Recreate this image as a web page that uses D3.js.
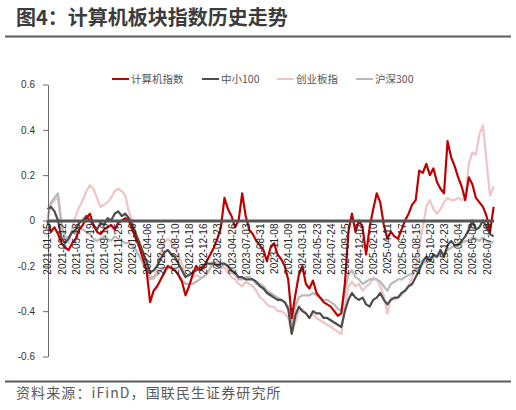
<!DOCTYPE html>
<html>
<head>
<meta charset="utf-8">
<script src="https://cdn.jsdelivr.net/npm/d3@7"></script>
<style>
  html, body { margin: 0; padding: 0; background: #fff; }
  svg { display: block; }
</style>
</head>
<body>
<svg id="chart" width="516" height="410"></svg>
<script>
// ---------- data ----------
const title = "图4：计算机板块指数历史走势";
const source = "资料来源：iFinD，国联民生证券研究所";
const seriesNames = ["计算机指数", "中小100", "创业板指", "沪深300"];

const tickLabels = [
  "2021-01-05","2021-03-12","2021-05-18","2021-07-19","2021-09-16","2021-11-25",
  "2022-01-26","2022-04-06","2022-06-10","2022-08-10","2022-10-18","2022-12-16",
  "2023-02-23","2023-04-26","2023-07-03","2023-08-31","2023-11-08","2024-01-09",
  "2024-03-18","2024-05-23","2024-07-24","2024-09-25","2024-12-02","2025-02-10",
  "2025-04-11","2025-06-17","2025-08-15","2025-10-23","2025-12-23","2026-03-04",
  "2026-05-08","2026-07-09"
];

const computer = [
  0.0, -0.05, -0.03, -0.06, -0.10, -0.12, -0.13, -0.10, -0.08, -0.04,
  -0.02, 0.01, 0.03, -0.02, -0.05, -0.06, -0.04, -0.03, -0.02, -0.04,
  -0.01, 0.0, 0.01, 0.0, -0.04, -0.08, -0.12, -0.17, -0.22, -0.36,
  -0.31, -0.29, -0.26, -0.23, -0.20, -0.21, -0.22, -0.24, -0.27, -0.33,
  -0.29, -0.24, -0.20, -0.22, -0.21, -0.18, -0.15, -0.12, -0.08, -0.03,
  0.10, 0.05, 0.02, -0.03, 0.0, 0.12, 0.02, -0.04, -0.06, -0.09,
  -0.11, -0.13, -0.18, -0.12, -0.10, -0.15, -0.17, -0.20, -0.26, -0.43,
  -0.33, -0.24, -0.20, -0.28, -0.30, -0.265, -0.32, -0.34, -0.36, -0.37,
  -0.38, -0.40, -0.42, -0.41, -0.28, -0.05, 0.03, -0.05, 0.0, -0.03,
  -0.15, -0.03, 0.05, 0.12, 0.08, -0.02, -0.08, -0.05, -0.07, -0.08,
  -0.04, 0.0, 0.03, 0.07, 0.09, 0.22, 0.21, 0.25, 0.20, 0.23,
  0.17, 0.14, 0.12, 0.35, 0.28, 0.24, 0.19, 0.15, 0.09, 0.19,
  0.16, 0.10, 0.08, 0.06, 0.02, -0.05, 0.06
];

const smallCap100 = [
  0.05, 0.06, 0.04, 0.0, -0.08, -0.10, -0.08, -0.05, -0.04, -0.01,
  0.0, 0.02, 0.0, -0.02, -0.04, -0.01, -0.02, 0.01, 0.0, 0.03,
  0.04, 0.02, 0.03, 0.01, -0.02, -0.06, -0.10, -0.14, -0.18, -0.23,
  -0.22, -0.20, -0.17, -0.14, -0.13, -0.15, -0.16, -0.19, -0.22, -0.25,
  -0.24, -0.23, -0.22, -0.21, -0.20, -0.19, -0.19, -0.19, -0.20, -0.19,
  -0.19, -0.20, -0.22, -0.23, -0.25, -0.25, -0.26, -0.26, -0.26, -0.27,
  -0.29, -0.30, -0.32, -0.33, -0.34, -0.35, -0.35, -0.36, -0.39, -0.50,
  -0.42, -0.38, -0.40, -0.41, -0.43, -0.40, -0.41, -0.41, -0.43, -0.43,
  -0.44, -0.45, -0.46, -0.47, -0.40, -0.35, -0.32, -0.34, -0.35, -0.34,
  -0.37, -0.38, -0.35, -0.34, -0.32, -0.35, -0.37, -0.35, -0.34, -0.34,
  -0.32, -0.31, -0.29, -0.28, -0.25, -0.22, -0.18, -0.16, -0.18, -0.15,
  -0.16, -0.13, -0.16, -0.11, -0.09, -0.11, -0.11, -0.09, -0.07, -0.04,
  0.0, -0.04, -0.03, 0.0, -0.03, -0.06, -0.07
];

const chinext = [
  0.02, 0.07, 0.09, 0.10, -0.03, -0.07, -0.10, -0.03, 0.02, 0.06,
  0.09, 0.13, 0.155, 0.14, 0.10, 0.06, 0.07, 0.08, 0.10, 0.13,
  0.14, 0.13, 0.11, 0.04, 0.0, -0.06, -0.09, -0.14, -0.20, -0.24,
  -0.26, -0.20, -0.14, -0.10, -0.08, -0.10, -0.12, -0.15, -0.19, -0.24,
  -0.24, -0.25, -0.24, -0.25, -0.25, -0.24, -0.21, -0.19, -0.18, -0.20,
  -0.21, -0.23, -0.25, -0.26, -0.28, -0.29, -0.27, -0.28, -0.29, -0.31,
  -0.34, -0.35, -0.37, -0.38, -0.38, -0.40, -0.40, -0.41, -0.43, -0.50,
  -0.45, -0.40, -0.39, -0.41, -0.43, -0.41, -0.43, -0.44, -0.45, -0.46,
  -0.47, -0.48, -0.49, -0.50, -0.38, -0.29, -0.27, -0.29, -0.28, -0.31,
  -0.29, -0.28, -0.25, -0.26, -0.29, -0.33, -0.41, -0.34, -0.35, -0.34,
  -0.33, -0.31, -0.29, -0.25, -0.21, -0.12, -0.03, 0.06, 0.09, 0.05,
  0.03, 0.05, 0.08, 0.10, 0.09, 0.09, 0.10, 0.09, 0.10, 0.25,
  0.30, 0.29, 0.38, 0.42, 0.26, 0.11, 0.15
];

const csi300 = [
  0.0, 0.08, 0.10, 0.12, -0.02, -0.08, -0.07, -0.05, -0.06, -0.03,
  -0.04, -0.05, -0.06, -0.08, -0.09, -0.08, -0.07, -0.08, -0.09, -0.07,
  -0.08, -0.09, -0.10, -0.10, -0.11, -0.13, -0.16, -0.19, -0.22, -0.26,
  -0.25, -0.24, -0.22, -0.21, -0.21, -0.21, -0.22, -0.24, -0.26, -0.28,
  -0.28, -0.28, -0.27, -0.26, -0.25, -0.23, -0.21, -0.18, -0.20, -0.21,
  -0.19, -0.21, -0.23, -0.24, -0.26, -0.26, -0.25, -0.25, -0.26, -0.28,
  -0.28, -0.29, -0.31, -0.32, -0.33, -0.34, -0.35, -0.36, -0.38, -0.46,
  -0.38, -0.34, -0.33, -0.33, -0.33, -0.32, -0.33, -0.34, -0.35, -0.35,
  -0.36, -0.37, -0.39, -0.40, -0.31, -0.24, -0.22, -0.25, -0.26, -0.28,
  -0.27, -0.26, -0.26, -0.26, -0.27, -0.29, -0.31, -0.28, -0.27, -0.26,
  -0.26, -0.25, -0.24, -0.235, -0.22, -0.21, -0.19, -0.18, -0.17, -0.16,
  -0.16, -0.15, -0.145, -0.13, -0.12, -0.11, -0.10, -0.10, -0.09, -0.09,
  -0.075, -0.08, -0.09, -0.075, -0.09, -0.10, -0.095
];

const yTicks = [-0.6, -0.4, -0.2, 0, 0.2, 0.4, 0.6];
const labelEvery = 4; // one tick label every 4 data points

// ---------- chart ----------
const svg = d3.select("#chart");
const cjk = "'Noto Sans CJK SC', 'Noto Sans', sans-serif";
const latin = "'Liberation Sans', Arial, sans-serif";

const n = computer.length;
const x = d3.scaleLinear().domain([0, n - 1]).range([47.4, 493.6]);
const y = d3.scaleLinear().domain([-0.6, 0.6]).range([356.5, 84.5]);

// title
svg.append("text")
  .attr("x", 16).attr("y", 24.5)
  .attr("font-family", cjk).attr("font-size", 20).attr("font-weight", "bold")
  .attr("fill", "#3c3c3c")
  .text(title);
svg.append("line")
  .attr("x1", 5).attr("x2", 511).attr("y1", 36.5).attr("y2", 36.5)
  .attr("stroke", "#5a5a5a").attr("stroke-width", 2);

// series definitions
const series = [
  { name: seriesNames[2], values: chinext,     color: "#F0C4C4" },
  { name: seriesNames[3], values: csi300,      color: "#B9B9B9" },
  { name: seriesNames[1], values: smallCap100, color: "#4D4D4D" },
  { name: seriesNames[0], values: computer,    color: "#C00000" }
];

const line = d3.line().x((d, i) => x(i)).y(d => y(d));

svg.append("g").selectAll("path")
  .data(series)
  .join("path")
  .attr("d", d => line(d.values))
  .attr("fill", "none")
  .attr("stroke", d => d.color)
  .attr("stroke-width", 2.2)
  .attr("stroke-linejoin", "round");

// y axis
const yAxis = svg.append("g")
  .attr("transform", "translate(48,0)")
  .call(d3.axisLeft(y).tickValues(yTicks).tickSize(5).tickSizeOuter(0).tickPadding(8)
    .tickFormat(d => d === 0 ? "0" : d3.format(".1f")(d).replace("−", "-")));
yAxis.select(".domain").attr("stroke", "#6a6a6a");
yAxis.selectAll(".tick line").attr("stroke", "#6a6a6a");
yAxis.selectAll("text").attr("font-family", latin).attr("font-size", 10).attr("fill", "#333");

// x axis at zero
const tickIdx = tickLabels.map((_, k) => k * labelEvery);
const xAxis = svg.append("g")
  .attr("transform", `translate(0,${y(0)})`)
  .call(d3.axisBottom(x).tickValues(tickIdx).tickSize(0).tickSizeOuter(0)
    .tickFormat((d, k) => tickLabels[k]));
xAxis.select(".domain").attr("stroke", "#555").attr("stroke-width", 3);
xAxis.selectAll(".tick text")
  .attr("font-family", latin).attr("font-size", 10).attr("fill", "#222")
  .attr("text-anchor", "end")
  .attr("transform", "translate(0,3) rotate(-90)")
  .attr("x", 0).attr("y", 0).attr("dy", "0.35em");

// legend
const legendItems = [
  { name: seriesNames[0], color: "#C00000", lx: 112 },
  { name: seriesNames[1], color: "#4D4D4D", lx: 202 },
  { name: seriesNames[2], color: "#F0C4C4", lx: 277 },
  { name: seriesNames[3], color: "#B9B9B9", lx: 356 }
];
const lg = svg.append("g").selectAll("g").data(legendItems).join("g")
  .attr("transform", d => `translate(${d.lx},79)`);
lg.append("line").attr("x1", 0).attr("x2", 17).attr("y1", 0).attr("y2", 0)
  .attr("stroke", d => d.color).attr("stroke-width", 2);
lg.append("text").attr("x", 19).attr("y", 0).attr("dy", "0.35em")
  .attr("font-family", cjk).attr("font-size", 10.5).attr("fill", "#555")
  .text(d => d.name);

// footer
svg.append("line")
  .attr("x1", 5).attr("x2", 511).attr("y1", 381.5).attr("y2", 381.5)
  .attr("stroke", "#5a5a5a").attr("stroke-width", 2);
svg.append("text")
  .attr("x", 16).attr("y", 398)
  .attr("font-family", cjk).attr("font-size", 14).attr("letter-spacing", 1.1)
  .attr("fill", "#595959")
  .text(source);
</script>
</body>
</html>
